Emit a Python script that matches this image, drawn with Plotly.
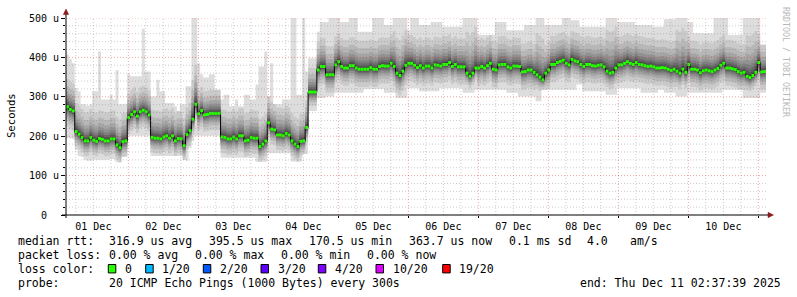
import pandas as pd
import plotly.graph_objects as go

# ---------------- data (hourly steps, microseconds) ----------------
start = pd.Timestamp("2025-12-01 02:37:39")
end = pd.Timestamp("2025-12-11 02:37:39")

median = [
    275, 268, 264, 212, 205, 197, 188, 188, 197, 190,
    187, 194, 192, 188, 188, 193, 193, 178, 171, 186,
    188, 247, 255, 262, 251, 262, 266, 262, 254, 197,
    195, 195, 193, 198, 201, 195, 201, 188, 194, 193,
    176, 204, 214, 243, 281, 257, 265, 254, 255, 258,
    258, 258, 258, 198, 197, 193, 193, 198, 193, 201,
    201, 188, 190, 197, 195, 195, 174, 180, 188, 234,
    218, 216, 203, 203, 201, 207, 203, 188, 180, 174,
    187, 188, 222, 312, 312, 312, 368, 377, 377, 356,
    356, 356, 381, 389, 377, 373, 373, 379, 379, 373,
    370, 370, 370, 370, 374, 370, 370, 377, 379, 378,
    378, 385, 377, 360, 354, 365, 380, 385, 385, 380,
    374, 379, 373, 378, 378, 373, 381, 380, 378, 382,
    382, 387, 377, 382, 376, 376, 376, 360, 352, 360,
    373, 373, 377, 373, 379, 385, 370, 368, 381, 382,
    382, 376, 373, 378, 378, 377, 363, 364, 368, 368,
    362, 356, 350, 343, 360, 368, 382, 382, 387, 390,
    393, 385, 381, 395, 391, 389, 382, 377, 382, 382,
    379, 378, 380, 381, 376, 365, 360, 362, 373, 381,
    381, 385, 389, 385, 382, 387, 382, 381, 379, 377,
    378, 376, 373, 373, 374, 373, 370, 367, 370, 365,
    360, 370, 362, 382, 370, 370, 368, 361, 366, 368,
    366, 364, 368, 372, 380, 385, 373, 373, 371, 369,
    364, 360, 362, 352, 349, 354, 362, 387, 363, 364,
]

ping_max = [
    407, 395, 385, 322, 314, 281, 281, 277, 281, 314,
    314, 415, 293, 293, 293, 305, 293, 368, 281, 281,
    281, 357, 352, 352, 352, 352, 473, 364, 364, 301,
    301, 343, 314, 314, 284, 284, 284, 276, 264, 281,
    281, 327, 327, 500, 500, 385, 357, 349, 349, 357,
    357, 318, 318, 293, 305, 305, 276, 276, 293, 276,
    276, 305, 305, 293, 293, 331, 377, 377, 415, 301,
    385, 281, 281, 281, 293, 293, 293, 500, 500, 305,
    305, 500, 364, 398, 398, 398, 465, 490, 490, 490,
    500, 500, 500, 500, 490, 490, 490, 500, 500, 500,
    465, 465, 465, 465, 465, 500, 500, 500, 500, 482,
    482, 482, 500, 500, 500, 500, 500, 469, 500, 500,
    500, 482, 482, 482, 482, 490, 490, 490, 490, 478,
    478, 478, 478, 478, 478, 478, 500, 500, 500, 500,
    500, 457, 457, 457, 457, 457, 457, 490, 490, 490,
    490, 469, 469, 469, 469, 469, 469, 482, 482, 482,
    482, 500, 500, 500, 482, 482, 482, 482, 482, 482,
    500, 500, 500, 494, 494, 494, 478, 478, 478, 478,
    478, 478, 478, 478, 478, 500, 500, 500, 500, 490,
    490, 490, 490, 490, 490, 482, 482, 482, 482, 482,
    482, 478, 478, 478, 478, 497, 497, 497, 497, 500,
    500, 500, 500, 490, 490, 461, 461, 461, 461, 461,
    461, 461, 500, 500, 500, 500, 500, 457, 457, 457,
    457, 457, 500, 500, 500, 500, 500, 500, 432, 432,
]

ping_min = [
    195, 195, 193, 165, 150, 147, 140, 138, 138, 140,
    140, 140, 140, 140, 140, 142, 142, 134, 134, 147,
    147, 201, 201, 201, 201, 201, 201, 201, 201, 150,
    150, 150, 150, 150, 150, 150, 150, 150, 150, 150,
    140, 138, 170, 188, 201, 201, 201, 201, 201, 201,
    201, 201, 201, 145, 145, 145, 145, 145, 145, 145,
    145, 145, 145, 145, 145, 135, 135, 135, 135, 157,
    157, 157, 157, 157, 157, 157, 157, 136, 136, 136,
    136, 155, 155, 264, 264, 264, 297, 297, 297, 301,
    301, 301, 310, 310, 310, 310, 310, 310, 310, 310,
    310, 310, 320, 320, 320, 320, 320, 320, 320, 310,
    310, 310, 310, 297, 297, 297, 297, 322, 322, 322,
    322, 314, 314, 314, 314, 314, 314, 314, 322, 322,
    322, 322, 322, 322, 322, 322, 310, 310, 310, 310,
    318, 318, 318, 318, 318, 318, 318, 318, 318, 318,
    318, 310, 310, 310, 310, 301, 301, 301, 301, 301,
    301, 289, 289, 318, 318, 318, 318, 318, 318, 318,
    318, 318, 318, 318, 318, 331, 331, 314, 314, 314,
    314, 314, 314, 314, 314, 305, 305, 305, 305, 322,
    322, 322, 322, 322, 322, 322, 322, 310, 310, 310,
    310, 310, 310, 318, 318, 310, 310, 310, 310, 301,
    301, 301, 301, 310, 310, 310, 310, 310, 310, 310,
    310, 310, 310, 310, 310, 318, 318, 318, 318, 318,
    318, 318, 297, 297, 297, 297, 297, 297, 310, 310,
]

# (number of hours, spread above / below the median of the inner smoke)
spread_up_runs = [(3, 70), (18, 72), (8, 62), (14, 70), (2, 100), (8, 60), (16, 70),
                  (14, 70), (3, 62), (26, 72), (5, 90), (20, 72), (4, 105), (20, 72),
                  (3, 105), (21, 72), (4, 105), (20, 72), (4, 105), (20, 72), (4, 105), (3, 72)]
spread_dn_runs = [(3, 50), (18, 38), (8, 42), (14, 38), (2, 40), (8, 42), (16, 40),
                  (14, 38), (3, 35), (26, 45), (5, 50), (20, 45), (4, 30), (20, 45),
                  (3, 35), (21, 45), (4, 40), (20, 45), (4, 40), (20, 45), (4, 35), (3, 45)]

y_ticks = [0, 100, 200, 300, 400, 500]
y_labels = ["0\u00a0\u00a0", "100 u", "200 u", "300 u", "400 u", "500 u"]

loss_labels = ["0", "1/20", "2/20", "3/20", "4/20", "10/20", "19/20"]
loss_colors = ["#26ff00", "#00b8ff", "#0059ff", "#5e00ff", "#7e00ff", "#dd00ff", "#ff0000"]

# ---------------- helpers ----------------
def expand(runs):
    out = []
    for n, v in runs:
        out += [v] * n
    return out

spread_up = expand(spread_up_runs)
spread_dn = expand(spread_dn_runs)
n = len(median)
times = list(pd.date_range(start, periods=n + 1, freq="h"))

def step(vals):
    return list(vals) + [vals[-1]]

q_hi = [min(m + u, pm) for m, u, pm in zip(median, spread_up, ping_max)]
q_lo = [max(m - d, pn) for m, d, pn in zip(median, spread_dn, ping_min)]

G = [1.0, 0.74, 0.55, 0.41, 0.30, 0.21, 0.14, 0.08, 0.035]
bands = [(ping_min, ping_max)]
for g in G:
    lo = [m - (m - ql) * g for m, ql in zip(median, q_lo)]
    hi = [m + (qh - m) * g for m, qh in zip(median, q_hi)]
    bands.append((lo, hi))

fig = go.Figure()
for k, (lo, hi) in enumerate(bands, start=1):
    gv = int(190 / 10 * (10 - k) + 50)
    col = f"rgb({gv},{gv},{gv})"
    fig.add_trace(go.Scatter(x=times, y=step(lo), mode="lines",
                             line=dict(width=0, shape="hv"), hoverinfo="skip", showlegend=False))
    fig.add_trace(go.Scatter(x=times, y=step(hi), mode="lines", fill="tonexty", fillcolor=col,
                             line=dict(width=0, shape="hv"), hoverinfo="skip", showlegend=False))

fig.add_trace(go.Scatter(x=times, y=step(median), mode="lines",
                         line=dict(color="#000000", width=1, shape="hv"), showlegend=False))
gx, gy = [], []
for i, m in enumerate(median):
    gx += [times[i], times[i + 1], None]
    gy += [m, m, None]
fig.add_trace(go.Scatter(x=gx, y=gy, mode="lines", line=dict(color=loss_colors[0], width=3),
                         showlegend=False))

# ---------------- grid (drawn above the smoke, like rrdtool) ----------------
shapes = []
minor_col = "rgba(120,120,120,0.38)"
major_col = "rgba(225,40,40,0.42)"
t = pd.Timestamp("2025-12-01 06:00")
while t < end:
    is_major = (t.hour == 0)
    shapes.append(dict(type="line", xref="x", yref="y", x0=t, x1=t, y0=0, y1=500, layer="above",
                       line=dict(color=major_col if is_major else minor_col, width=1, dash="1px,2px")))
    t += pd.Timedelta(hours=6)
for v in range(20, 501, 20):
    is_major = (v % 100 == 0)
    shapes.append(dict(type="line", xref="x", yref="y", x0=start, x1=end, y0=v, y1=v, layer="above",
                       line=dict(color=major_col if is_major else minor_col, width=1, dash="1px,2px")))

L, W, T, H = 66, 700, 16, 199
def px(x):
    return (x - L) / W
def py(y):
    return (T + H - y) / H

arrow_col = "#8b1a1a"
shapes.append(dict(type="line", xref="paper", yref="paper", x0=px(62), x1=px(768), y0=0, y1=0,
                   line=dict(color="#000000", width=1), layer="above"))
shapes.append(dict(type="line", xref="paper", yref="paper", x0=0, x1=0, y0=py(218), y1=py(12),
                   line=dict(color="#000000", width=1), layer="above"))
shapes.append(dict(type="path", xref="paper", yref="paper", layer="above",
                   path=f"M {px(63.3)} {py(12.5)} L {px(68.7)} {py(12.5)} L {px(66)} {py(7)} Z",
                   fillcolor=arrow_col, line=dict(color=arrow_col, width=0.5)))
shapes.append(dict(type="path", xref="paper", yref="paper", layer="above",
                   path=f"M {px(768)} {py(212.3)} L {px(768)} {py(217.7)} L {px(773.5)} {py(215)} Z",
                   fillcolor=arrow_col, line=dict(color=arrow_col, width=0.5)))

# ---------------- legend text ----------------
mono = "DejaVu Sans Mono"
ann = []
def text(x, y, s, size=11.5, color="#000000"):
    ann.append(dict(xref="paper", yref="paper", x=px(x), y=py(y), text=s, showarrow=False,
                    xanchor="left", yanchor="middle", font=dict(family=mono, size=size, color=color)))

row1, row2, row3, row4 = 241.5, 255.4, 269.3, 283.3
text(16, row1, "median rtt:")
text(107, row1, "316.9 us avg")
text(207, row1, "395.5 us max")
text(307, row1, "170.5 us min")
text(407, row1, "363.7 us now")
text(507, row1, "0.1 ms sd")
text(585, row1, "4.0")
text(628, row1, "am/s")
text(16, row2, "packet loss:")
text(107, row2, "0.00 % avg")
text(193, row2, "0.00 % max")
text(279, row2, "0.00 % min")
text(365, row2, "0.00 % now")
text(16, row3, "loss color:")
sw_left = [108.3, 145.7, 203.3, 261, 318.3, 376, 442.7]
for xl, lab, col in zip(sw_left, loss_labels, loss_colors):
    shapes.append(dict(type="rect", xref="paper", yref="paper", x0=px(xl), x1=px(xl + 7.5),
                       y0=py(273.5), y1=py(265), fillcolor=col, line=dict(color="#000000", width=1)))
    text(xl + 14.5, row3, lab)
text(16, row4, "probe:")
text(107, row4, "20 ICMP Echo Pings (1000 Bytes) every 300s")
text(578, row4, "end: Thu Dec 11 02:37:39 2025")

ann.append(dict(xref="paper", yref="paper", x=px(11), y=py(115), text="Seconds", showarrow=False,
                textangle=-90, xanchor="center", yanchor="middle",
                font=dict(family=mono, size=10.6, color="#000000")))
ann.append(dict(xref="paper", yref="paper", x=px(786.5), y=py(60), text="RRDTOOL / TOBI OETIKER",
                showarrow=False, textangle=90, xanchor="center", yanchor="middle",
                font=dict(family=mono, size=8.3, color="#b8b8b8")))

fig.update_layout(
    width=797, height=297,
    margin=dict(l=L, r=797 - L - W, t=T, b=297 - T - H),
    paper_bgcolor="#ffffff", plot_bgcolor="#ffffff",
    shapes=shapes, annotations=ann, showlegend=False,
    xaxis=dict(type="date", range=[start, end], showgrid=False, zeroline=False, showline=False,
               ticks="outside", ticklen=2, tickcolor="#000000", dtick=86400000, tick0="2025-12-01",
               tickformat="%d %b", ticklabelmode="period",
               tickfont=dict(family=mono, size=10, color="#000000"), fixedrange=True),
    yaxis=dict(range=[0, 500], tickvals=y_ticks, ticktext=y_labels, showgrid=False, zeroline=False,
               showline=False, ticks="outside", ticklen=4, tickcolor="#000000",
               minor=dict(dtick=20, ticks="outside", ticklen=2, tickcolor="#000000"),
               tickfont=dict(family=mono, size=10, color="#000000"), fixedrange=True),
)

fig.write_html("out.html")
